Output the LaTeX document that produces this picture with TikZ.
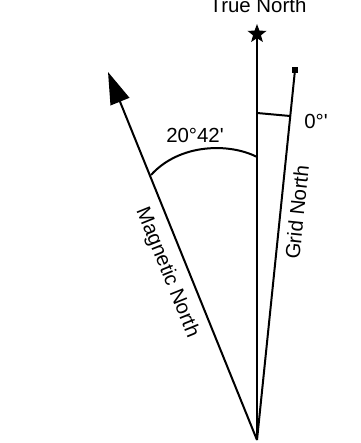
\documentclass[tikz,border=0pt]{standalone}
\usepackage{fontspec}
\setmainfont{Liberation Sans}
\usetikzlibrary{arrows.meta,shapes.geometric}
\begin{document}
\begin{tikzpicture}[x=0.5pt,y=0.5pt,line width=1pt,
    lbl/.style={font=\fontsize{10.2}{12}\selectfont,inner sep=1pt}]
    \useasboundingbox (0,0) rectangle (360,443);
    \coordinate (O) at (257,3);
    \node[star,star points=5,star point ratio=2.4,fill,minimum size=10pt,inner sep=0pt] (TrueN) at (257,409) {};
    \node[fill,minimum size=3pt,inner sep=0pt] (GridN) at (295,373) {};
    \coordinate (MagN) at (108,371);
    \coordinate (ArcA) at (151,268);
    \coordinate (ArcB) at (257,286);
    \coordinate (TickA) at (257,330);
    \coordinate (TickB) at (290,327);
    \node[lbl,anchor=base] (TNlbl) at (258,430) {True North};
    \draw (O) -- (TrueN.center);
    \draw (O) -- (GridN.center) node[lbl,pos=0.62,sloped,below=3pt] (GNlbl) {Grid North};
    \draw[-{Triangle[length=16pt,width=10pt]}] (O) -- (MagN);
    \path (MagN) -- (O) node[lbl,pos=0.524,sloped,below=4pt] (MNlbl) {Magnetic North};
    \draw (TickA) -- (TickB);
    \node[lbl] (GridAng) at (316,322) {0°\textquotesingle};
    \draw (ArcA) .. controls (180,300) and (230,300) .. (ArcB);
    \node[lbl] (MagAng) at (195,308) {20°42\textquotesingle};
\end{tikzpicture}
\end{document}
